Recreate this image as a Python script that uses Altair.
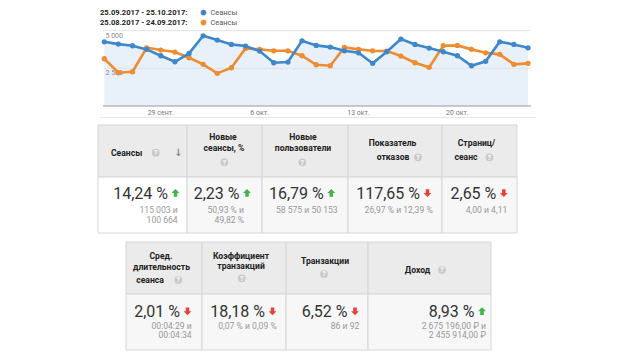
import altair as alt
import pandas as pd

# ---------------- data: line chart ----------------
period_current = "25.09.2017 - 25.10.2017:"
period_previous = "25.08.2017 - 24.09.2017:"
series_name = "Сеансы"
start_date = "2017-09-25"
sessions_current = [4264, 4111, 4000, 3760, 3336, 2938, 3494, 4662, 4377, 4090,
                    3979, 3647, 2871, 2918, 4330, 4025, 3912, 3667, 3534, 2831,
                    3601, 4443, 4090, 3846, 3601, 3336, 2672, 2964, 4264, 4090, 3866]
sessions_previous = [3137, 2208, 2275, 3866, 3714, 3581, 3203, 2765, 2168, 2540,
                     3826, 3760, 3667, 3667, 3336, 2739, 2672, 3893, 3760, 3667,
                     3647, 3316, 2871, 2566, 4000, 4025, 3760, 3534, 3428, 2765, 2831]
y_ticks = [2500, 5000]
y_tick_labels = ["2 500", "5 000"]
x_tick_dates = ["2017-09-29", "2017-10-06", "2017-10-13", "2017-10-20"]
x_tick_labels = ["29 сент.", "6 окт.", "13 окт.", "20 окт."]

# ---------------- data: tables ----------------
t1_headers = [["Сеансы"], ["Новые", "сеансы, %"], ["Новые", "пользователи"],
              ["Показатель", "отказов"], ["Страниц/", "сеанс"]]
t1_changes = ["14,24 %", "2,23 %", "16,79 %", "117,65 %", "2,65 %"]
t1_trend = ["up", "up", "up", "down", "down"]
t1_compare = [["115 003 и", "100 664"], ["50,93 % и", "49,82 %"], ["58 575 и 50 153"],
              ["26,97 % и 12,39 %"], ["4,00 и 4,11"]]

t2_headers = [["Сред.", "длительность", "сеанса"], ["Коэффициент", "транзакций"],
              ["Транзакции"], ["Доход"]]
t2_changes = ["2,01 %", "18,18 %", "6,52 %", "8,93 %"]
t2_trend = ["down", "down", "down", "up"]
t2_compare = [["00:04:29 и", "00:04:34"], ["0,07 % и 0,09 %"], ["86 и 92"],
              ["2 675 196,00 ₽ и", "2 455 914,00 ₽"]]

# ---------------- layout (page pixels) ----------------
OFF = 8
def P(v):
    return v - OFF

FONT = "Roboto"
BLUE, ORANGE = "#3f87cb", "#ee8c30"
GREEN, RED = "#3fb54a", "#e8413c"

PLOT_X0, PLOT_X1 = 104.3, 528.0
PLOT_Y0, PLOT_Y5000 = 106.0, 30.7

t1_cols = [98, 187, 262, 348, 442, 517]
t1_rows = [125, 177, 233]
t1_head_pos = [[(111, 152.7)], [(223, 137.3), (224, 148)], [(303, 137.3), (303, 148)],
               [(392.5, 143.3), (393, 157.3)], [(476.5, 143.3), (466, 157.3)]]
t1_head_align = ["left", "center", "center", "center", "center"]
t1_q_pos = [(155.7, 152.7), (224.3, 162.3), (302.3, 162.3), (418, 157.3), (489.5, 157.3)]
t1_arrow_x = [175.5, 247, 331.3, 427.5, 503.8]
t1_sub_right = [177.7, 244, 337.7, 432.7, 507.3]
t1_val_y, t1_arrow_y, t1_sub_y = 194, 193, [210, 219.5]
t1_val_fill = ["#ffffff", "#f7f7f7", "#f7f7f7", "#f7f7f7", "#f7f7f7"]

t2_cols = [126, 202, 286, 368, 491]
t2_rows = [242, 294, 350]
t2_head_pos = [[(161, 255.7), (161.5, 267.3), (150, 280)], [(241, 255.7), (241, 266)],
               [(325, 260.7)], [(417.5, 270)]]
t2_head_align = ["center", "center", "center", "center"]
t2_q_pos = [(178.3, 280), (241.7, 278.3), (324, 274), (442, 270)]
t2_arrow_x = [187.5, 272.5, 355, 482]
t2_sub_right = [191.7, 276.7, 359.3, 486]
t2_val_y, t2_arrow_y, t2_sub_y = 312, 311.3, [325.5, 335]
t2_val_fill = ["#f7f7f7"] * 4

UP = "M0,-1 L1,0 L0.45,0 L0.45,0.95 L-0.45,0.95 L-0.45,0 L-1,0 Z"
DOWN = "M0,1 L1,0 L0.45,0 L0.45,-0.95 L-0.45,-0.95 L-0.45,0 L-1,0 Z"

# ---------------- build frames ----------------
n = len(sessions_current)
line_df = pd.DataFrame({
    "day": list(range(n)),
    "date": pd.date_range(start_date, periods=n).strftime("%d.%m.%Y"),
    "current": sessions_current,
    "previous": sessions_previous,
})
tick_df = pd.DataFrame({
    "day": [(pd.Timestamp(d) - pd.Timestamp(start_date)).days for d in x_tick_dates],
    "label": x_tick_labels,
})
grid_df = pd.DataFrame({"value": [0] + y_ticks, "label": [""] + y_tick_labels,
                        "color": ["#9a9a9a", "#e2e2e2", "#e2e2e2"]})

xs = alt.Scale(domain=[0, n - 1], range=[P(PLOT_X0), P(PLOT_X1)], nice=False, zero=False)
ys = alt.Scale(domain=[0, 5000], range=[P(PLOT_Y0), P(PLOT_Y5000)], nice=False, zero=False)

def XD(f):
    return alt.X(f, scale=xs, axis=None)

def YD(f):
    return alt.Y(f, scale=ys, axis=None)

def XP(f):
    return alt.X(f, scale=None, axis=None)

def YP(f):
    return alt.Y(f, scale=None, axis=None)

one = pd.DataFrame({"k": [0]})

area = alt.Chart(line_df).mark_area(color="#e8f0f9").encode(
    x=XD("day:Q"), y=YD("current:Q"), y2=alt.datum(0))
grid = alt.Chart(grid_df).mark_rule(strokeWidth=1).encode(
    y=YD("value:Q"), x=alt.value(P(103)), x2=alt.value(P(531)),
    color=alt.Color("color:N", scale=None))
ylab = alt.Chart(grid_df[grid_df["value"] > 0]).mark_text(
    font=FONT, fontSize=7, color="#8a8a8a", align="left", baseline="middle", dy=5).encode(
    y=YD("value:Q"), x=alt.value(P(105.5)), text="label:N")
xlab = alt.Chart(tick_df).mark_text(
    font=FONT, fontSize=7, color="#777777", align="center", baseline="middle").encode(
    x=XD("day:Q"), y=alt.value(P(113.3)), text="label:N")
sep = alt.Chart(one).mark_rule(color="#e6e6e6", strokeWidth=1).encode(
    x=alt.value(P(100)), x2=alt.value(P(536)), y=alt.value(P(117.5)))

prev_line = alt.Chart(line_df).mark_line(color=ORANGE, strokeWidth=2.6).encode(
    x=XD("day:Q"), y=YD("previous:Q"))
prev_pts = alt.Chart(line_df).mark_circle(color=ORANGE, size=28, opacity=1).encode(
    x=XD("day:Q"), y=YD("previous:Q"))
cur_line = alt.Chart(line_df).mark_line(color=BLUE, strokeWidth=2.6).encode(
    x=XD("day:Q"), y=YD("current:Q"))
cur_pts = alt.Chart(line_df).mark_circle(color=BLUE, size=28, opacity=1).encode(
    x=XD("day:Q"), y=YD("current:Q"))

# legend (first row cannot sit above the page margin, so it starts just below it)
leg_df = pd.DataFrame({
    "period": [period_current, period_previous],
    "name": [series_name, series_name],
    "color": [BLUE, ORANGE],
    "y": [P(12.6), P(22.6)],
    "xp": [P(100), P(100)],
    "xd": [P(203.5), P(203.5)],
    "xn": [P(210.5), P(210.5)],
})
leg_period = alt.Chart(leg_df).mark_text(
    font=FONT, fontSize=7.6, fontWeight="bold", color="#222222", align="left", baseline="middle").encode(
    x=XP("xp:Q"), y=YP("y:Q"), text="period:N")
leg_dot = alt.Chart(leg_df).mark_circle(size=32, opacity=1).encode(
    x=XP("xd:Q"), y=YP("y:Q"), color=alt.Color("color:N", scale=None))
leg_name = alt.Chart(leg_df).mark_text(
    font=FONT, fontSize=7.4, color="#555555", align="left", baseline="middle").encode(
    x=XP("xn:Q"), y=YP("y:Q"), text="name:N")

# tables
rects, heads, qs, vals, subs = [], [], [], [], []
for (cols, rows, hpos, halign, qpos, ax, sr, vy, ay, sy, vfill,
     headers, changes, trend, compare) in [
    (t1_cols, t1_rows, t1_head_pos, t1_head_align, t1_q_pos, t1_arrow_x, t1_sub_right,
     t1_val_y, t1_arrow_y, t1_sub_y, t1_val_fill, t1_headers, t1_changes, t1_trend, t1_compare),
    (t2_cols, t2_rows, t2_head_pos, t2_head_align, t2_q_pos, t2_arrow_x, t2_sub_right,
     t2_val_y, t2_arrow_y, t2_sub_y, t2_val_fill, t2_headers, t2_changes, t2_trend, t2_compare),
]:
    for i in range(len(cols) - 1):
        rects.append({"x0": P(cols[i]), "x1": P(cols[i + 1]), "y0": P(rows[0]), "y1": P(rows[1]),
                      "fill": "#ebebeb"})
        rects.append({"x0": P(cols[i]), "x1": P(cols[i + 1]), "y0": P(rows[1]), "y1": P(rows[2]),
                      "fill": vfill[i]})
        for line, (hx, hy) in zip(headers[i], hpos[i]):
            heads.append({"x": P(hx), "y": P(hy), "text": line, "align": halign[i]})
        qs.append({"x": P(qpos[i][0]), "y": P(qpos[i][1]), "q": "?"})
        vals.append({"x": P(ax[i] - 7.5), "y": P(vy), "text": changes[i],
                     "ax": P(ax[i]), "ay": P(ay),
                     "shape": UP if trend[i] == "up" else DOWN,
                     "color": GREEN if trend[i] == "up" else RED})
        for line, ly in zip(compare[i], sy):
            subs.append({"x": P(sr[i]), "y": P(ly), "text": line})

rect_df = pd.DataFrame(rects)
head_df = pd.DataFrame(heads)
q_df = pd.DataFrame(qs)
val_df = pd.DataFrame(vals)
sub_df = pd.DataFrame(subs)
sort_df = pd.DataFrame({"x": [P(178.3)], "y": [P(152.7)], "t": ["↓"]})

cells = alt.Chart(rect_df).mark_rect(stroke="#d6d6d6", strokeWidth=1).encode(
    x=XP("x0:Q"), x2="x1:Q", y=YP("y0:Q"), y2="y1:Q", fill=alt.Fill("fill:N", scale=None))
head_c = alt.Chart(head_df[head_df["align"] == "center"]).mark_text(
    font=FONT, fontSize=8.6, fontWeight="bold", color="#222222", align="center", baseline="middle").encode(
    x=XP("x:Q"), y=YP("y:Q"), text="text:N")
head_l = alt.Chart(head_df[head_df["align"] == "left"]).mark_text(
    font=FONT, fontSize=8.6, fontWeight="bold", color="#222222", align="left", baseline="middle").encode(
    x=XP("x:Q"), y=YP("y:Q"), text="text:N")
q_circ = alt.Chart(q_df).mark_circle(size=60, color="#c9c9c9", opacity=1).encode(
    x=XP("x:Q"), y=YP("y:Q"))
q_txt = alt.Chart(q_df).mark_text(
    font=FONT, fontSize=7, fontWeight="bold", color="#ffffff", align="center", baseline="middle", dy=0.4).encode(
    x=XP("x:Q"), y=YP("y:Q"), text="q:N")
sort_txt = alt.Chart(sort_df).mark_text(
    font="DejaVu Sans", fontSize=10, fontWeight="bold", color="#8a8a8a", align="center", baseline="middle").encode(
    x=XP("x:Q"), y=YP("y:Q"), text="t:N")
val_txt = alt.Chart(val_df).mark_text(
    font=FONT, fontSize=16, color="#333333", align="right", baseline="middle").encode(
    x=XP("x:Q"), y=YP("y:Q"), text="text:N")
arrows = alt.Chart(val_df).mark_point(filled=True, size=62, strokeWidth=0, opacity=1).encode(
    x=XP("ax:Q"), y=YP("ay:Q"), shape=alt.Shape("shape:N", scale=None),
    color=alt.Color("color:N", scale=None))
sub_txt = alt.Chart(sub_df).mark_text(
    font=FONT, fontSize=8.6, color="#999999", align="right", baseline="middle").encode(
    x=XP("x:Q"), y=YP("y:Q"), text="text:N")

chart = alt.layer(
    area, grid, ylab, xlab, sep, prev_line, prev_pts, cur_line, cur_pts,
    leg_period, leg_dot, leg_name,
    cells, head_c, head_l, q_circ, q_txt, sort_txt, val_txt, arrows, sub_txt,
).resolve_scale(
    x="independent", y="independent", color="independent", fill="independent", shape="independent"
).properties(
    width=625, height=344, autosize=alt.AutoSizeParams(type="none"), padding=0, background="#ffffff"
).configure_view(stroke=None)

chart.save("out.html", embed_options={"renderer": "svg", "actions": False})
